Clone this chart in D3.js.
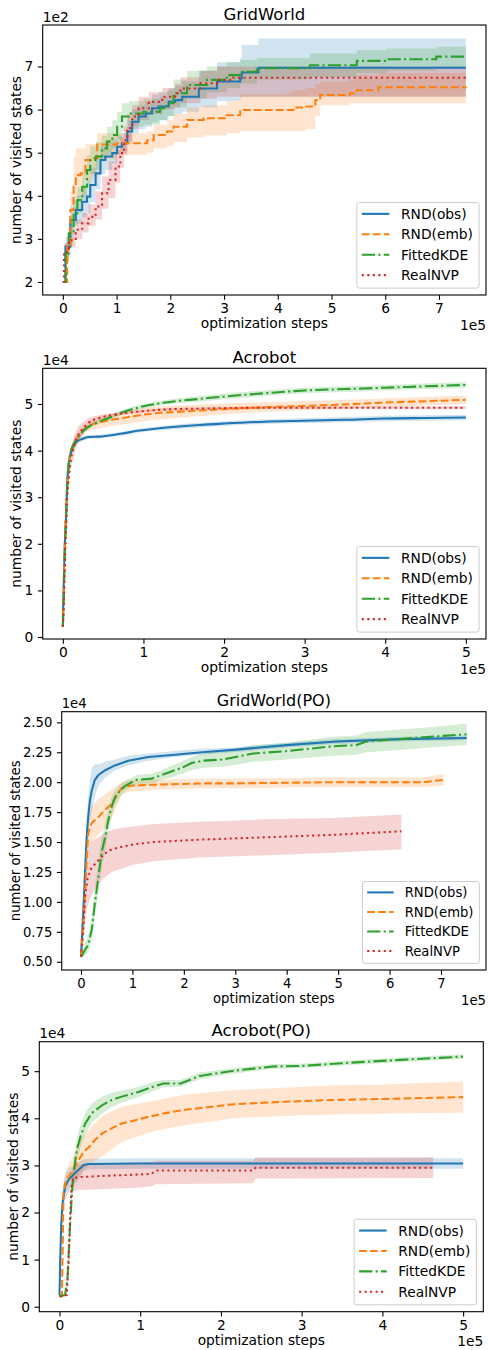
<!DOCTYPE html>
<html>
<head>
<meta charset="utf-8">
<script src="https://cdn.jsdelivr.net/npm/d3@7"></script>
<style>
  body { margin: 0; background: #fff; }
  svg { display: block; font-family: 'DejaVu Sans', sans-serif; }
</style>
</head>
<body>
<svg width="488" height="1350"></svg>
<script>
const seriesNames = ['RND(obs)', 'RND(emb)', 'FittedKDE', 'RealNVP']
const colors = ['#1f77b4', '#ff7f0e', '#2ca02c', '#d62728']
const dashes = [null, '7.7,3.3', '13.2,3.3,2.1,3.3', '2.1,3.4']

// GridWorld (x in 1e5 steps, y in 1e2 states)
const gwObsSteps = [0, 0.05, 0.14, 0.24, 0.36, 0.45, 0.51, 0.61, 0.70, 0.79, 0.92, 1.01, 1.10, 1.20, 1.29, 1.41, 1.54, 1.66, 1.78, 1.97, 2.09, 2.22, 2.53, 2.87, 3.30, 3.33, 3.61, 3.64, 7.5]
const gwObsMean = [2.0, 2.82, 3.44, 3.67, 3.86, 3.98, 4.25, 4.52, 4.83, 4.91, 4.99, 5.14, 5.22, 5.49, 5.72, 5.84, 5.91, 6.03, 6.07, 6.18, 6.22, 6.30, 6.49, 6.65, 6.73, 6.86, 6.86, 6.97, 6.97]
const gwObsLow = [2.0, 2.6, 3.15, 3.35, 3.5, 3.6, 3.85, 4.15, 4.5, 4.6, 4.75, 4.95, 5.0, 5.25, 5.45, 5.55, 5.6, 5.7, 5.75, 5.85, 5.9, 5.95, 6.05, 6.2, 6.25, 6.3, 6.3, 6.3, 6.3]
const gwObsHigh = [2.0, 3.05, 3.75, 4.0, 4.2, 4.35, 4.65, 4.9, 5.15, 5.25, 5.3, 5.4, 5.45, 5.75, 6.0, 6.1, 6.2, 6.35, 6.4, 6.5, 6.55, 6.65, 6.9, 7.1, 7.2, 7.5, 7.5, 7.65, 7.65]

const gwEmbSteps = [0, 0.08, 0.14, 0.20, 0.24, 0.33, 0.42, 0.55, 0.64, 1.01, 1.57, 1.69, 1.94, 2.06, 2.31, 2.62, 3.05, 3.30, 4.17, 4.29, 4.51, 4.70, 4.79, 5.34, 5.47, 5.87, 7.5]
const gwEmbMean = [2.0, 2.82, 3.67, 4.21, 4.48, 4.52, 4.83, 4.87, 5.19, 5.22, 5.29, 5.41, 5.49, 5.60, 5.76, 5.80, 5.87, 5.99, 5.99, 6.05, 6.07, 6.22, 6.34, 6.38, 6.45, 6.52, 6.53]
const gwEmbLow = [2.0, 2.55, 3.2, 3.7, 3.95, 4.0, 4.35, 4.45, 4.85, 4.95, 5.0, 5.1, 5.15, 5.25, 5.35, 5.4, 5.45, 5.5, 5.5, 5.5, 5.55, 5.85, 6.1, 6.15, 6.15, 6.15, 6.15]
const gwEmbHigh = [2.0, 3.1, 4.1, 4.9, 5.1, 5.1, 5.2, 5.2, 5.45, 5.45, 5.5, 5.65, 5.75, 5.9, 6.05, 6.1, 6.2, 6.35, 6.4, 6.45, 6.5, 6.6, 6.65, 6.7, 6.8, 6.85, 6.9]

const gwKdeSteps = [0, 0.05, 0.11, 0.20, 0.27, 0.36, 0.45, 0.51, 0.61, 0.73, 0.82, 0.92, 1.01, 1.10, 1.23, 1.50, 1.81, 1.94, 2.06, 2.31, 2.68, 3.05, 3.30, 3.61, 4.60, 5.47, 6.02, 6.95, 7.5]
const gwKdeMean = [2.0, 2.67, 3.13, 3.59, 3.90, 4.21, 4.60, 4.83, 4.91, 5.10, 5.26, 5.41, 5.60, 5.84, 5.91, 5.95, 6.03, 6.15, 6.38, 6.57, 6.69, 6.80, 6.88, 6.96, 7.03, 7.13, 7.17, 7.23, 7.23]
const gwKdeLow = [2.0, 2.45, 2.85, 3.3, 3.6, 3.9, 4.25, 4.5, 4.6, 4.8, 4.95, 5.1, 5.3, 5.5, 5.6, 5.65, 5.75, 5.85, 6.05, 6.25, 6.4, 6.5, 6.6, 6.7, 6.75, 6.85, 6.9, 6.98, 6.98]
const gwKdeHigh = [2.0, 2.9, 3.4, 3.9, 4.2, 4.55, 4.95, 5.15, 5.25, 5.4, 5.6, 5.75, 5.95, 6.15, 6.2, 6.25, 6.3, 6.45, 6.7, 6.9, 7.0, 7.1, 7.15, 7.2, 7.3, 7.38, 7.42, 7.46, 7.46]

const gwNvpSteps = [0, 0.02, 0.11, 0.24, 0.36, 0.48, 0.61, 0.73, 0.85, 0.98, 1.07, 1.14, 1.20, 1.29, 1.41, 1.60, 1.85, 2.09, 2.19, 2.56, 2.87, 3.17, 7.5]
const gwNvpMean = [2.0, 2.70, 2.97, 3.21, 3.36, 3.51, 3.75, 4.06, 4.37, 4.68, 4.99, 5.29, 5.57, 5.84, 6.03, 6.18, 6.30, 6.38, 6.49, 6.61, 6.69, 6.74, 6.74]
const gwNvpLow = [2.0, 2.5, 2.8, 3.0, 3.15, 3.3, 3.45, 3.7, 3.95, 4.3, 4.65, 4.95, 5.25, 5.55, 5.75, 5.9, 6.0, 6.05, 6.15, 6.25, 6.3, 6.3, 6.3]
const gwNvpHigh = [2.0, 2.9, 3.15, 3.45, 3.6, 3.8, 4.1, 4.45, 4.8, 5.05, 5.35, 5.6, 5.9, 6.1, 6.3, 6.4, 6.5, 6.6, 6.75, 6.9, 7.0, 7.0, 6.96]

// Acrobot (x in 1e5 steps, y in 1e4 states)
const acSteps = [0, 0.012, 0.025, 0.04, 0.055, 0.075, 0.1, 0.14, 0.18, 0.24, 0.32, 0.45, 0.6, 0.75, 0.95, 1.15, 1.4, 1.7, 2.0, 2.5, 3.0, 3.5, 4.0, 4.5, 5.0]
const acObsMean = [0.22, 1.25, 2.0, 2.6, 3.35, 3.75, 3.95, 4.12, 4.2, 4.25, 4.29, 4.30, 4.33, 4.37, 4.43, 4.47, 4.51, 4.55, 4.58, 4.62, 4.64, 4.66, 4.69, 4.70, 4.71]
const acObsLow = [0.22, 1.05, 1.8, 2.4, 3.15, 3.6, 3.85, 4.05, 4.15, 4.2, 4.25, 4.26, 4.29, 4.33, 4.39, 4.43, 4.46, 4.5, 4.53, 4.57, 4.59, 4.61, 4.63, 4.64, 4.65]
const acObsHigh = [0.22, 1.45, 2.2, 2.8, 3.55, 3.9, 4.05, 4.19, 4.25, 4.3, 4.33, 4.34, 4.37, 4.41, 4.47, 4.51, 4.56, 4.6, 4.63, 4.67, 4.7, 4.72, 4.75, 4.76, 4.77]
const acEmbMean = [0.22, 1.1, 2.08, 2.7, 3.2, 3.7, 3.98, 4.15, 4.28, 4.42, 4.53, 4.6, 4.66, 4.7, 4.76, 4.8, 4.83, 4.86, 4.89, 4.93, 4.96, 4.99, 5.03, 5.06, 5.09]
const acEmbLow = [0.22, 0.95, 1.9, 2.5, 3.0, 3.55, 3.85, 4.05, 4.18, 4.33, 4.43, 4.48, 4.53, 4.56, 4.62, 4.66, 4.7, 4.74, 4.78, 4.83, 4.87, 4.9, 4.94, 4.97, 5.0]
const acEmbHigh = [0.22, 1.25, 2.25, 2.9, 3.4, 3.85, 4.1, 4.25, 4.38, 4.5, 4.62, 4.72, 4.79, 4.84, 4.9, 4.94, 4.97, 4.99, 5.01, 5.04, 5.06, 5.09, 5.12, 5.15, 5.18]
const acKdeMean = [0.22, 0.86, 1.9, 2.6, 3.3, 3.75, 3.98, 4.15, 4.26, 4.4, 4.51, 4.62, 4.72, 4.83, 4.93, 5.0, 5.06, 5.11, 5.16, 5.23, 5.29, 5.32, 5.35, 5.38, 5.41]
const acKdeLow = [0.22, 0.7, 1.75, 2.45, 3.15, 3.65, 3.9, 4.08, 4.2, 4.34, 4.46, 4.57, 4.67, 4.78, 4.88, 4.95, 5.01, 5.05, 5.1, 5.17, 5.23, 5.26, 5.29, 5.32, 5.35]
const acKdeHigh = [0.22, 1.0, 2.05, 2.75, 3.45, 3.85, 4.06, 4.22, 4.32, 4.46, 4.56, 4.67, 4.77, 4.88, 4.98, 5.05, 5.11, 5.17, 5.22, 5.29, 5.35, 5.38, 5.41, 5.44, 5.47]
const acNvpMean = [0.22, 0.7, 1.6, 2.3, 3.0, 3.45, 3.8, 4.1, 4.3, 4.45, 4.6, 4.7, 4.76, 4.8, 4.84, 4.87, 4.89, 4.9, 4.91, 4.92, 4.92, 4.92, 4.92, 4.92, 4.92]
const acNvpLow = [0.22, 0.55, 1.4, 2.1, 2.8, 3.25, 3.6, 3.9, 4.12, 4.3, 4.5, 4.64, 4.72, 4.77, 4.81, 4.84, 4.86, 4.87, 4.88, 4.89, 4.89, 4.89, 4.89, 4.89, 4.89]
const acNvpHigh = [0.22, 0.85, 1.8, 2.5, 3.2, 3.65, 4.0, 4.3, 4.48, 4.6, 4.7, 4.76, 4.8, 4.83, 4.87, 4.9, 4.92, 4.93, 4.94, 4.95, 4.95, 4.95, 4.95, 4.95, 4.95]

// GridWorld(PO) (x in 1e5 steps, y in 1e4 states)
const gpObsSteps = [0, 0.045, 0.08, 0.11, 0.14, 0.175, 0.21, 0.27, 0.34, 0.47, 0.66, 0.92, 1.31, 1.83, 2.35, 2.96, 4.0, 4.97, 6.2, 7.5]
const gpObsMean = [0.54, 0.93, 1.27, 1.54, 1.71, 1.85, 1.93, 2.02, 2.06, 2.10, 2.14, 2.18, 2.21, 2.23, 2.25, 2.27, 2.31, 2.34, 2.36, 2.37]
const gpObsLow = [0.54, 0.85, 1.15, 1.4, 1.55, 1.68, 1.75, 1.88, 1.97, 2.04, 2.1, 2.14, 2.18, 2.21, 2.23, 2.25, 2.29, 2.32, 2.34, 2.35]
const gpObsHigh = [0.54, 1.0, 1.38, 1.68, 1.88, 2.02, 2.12, 2.15, 2.15, 2.17, 2.19, 2.22, 2.24, 2.26, 2.28, 2.29, 2.33, 2.36, 2.38, 2.39]

const gpEmbSteps = [0, 0.065, 0.11, 0.14, 0.21, 0.34, 0.47, 0.60, 0.69, 0.79, 0.92, 1.50, 2.41, 2.96, 4.9, 6.66, 7.05]
const gpEmbMean = [0.54, 0.93, 1.35, 1.57, 1.66, 1.71, 1.77, 1.82, 1.89, 1.95, 1.97, 1.98, 1.99, 1.99, 2.0, 2.0, 2.02]
const gpEmbLow = [0.54, 0.8, 1.2, 1.42, 1.5, 1.56, 1.63, 1.7, 1.8, 1.89, 1.92, 1.94, 1.95, 1.95, 1.96, 1.96, 1.97]
const gpEmbHigh = [0.54, 1.05, 1.5, 1.72, 1.8, 1.86, 1.9, 1.94, 1.97, 2.0, 2.02, 2.02, 2.03, 2.03, 2.04, 2.04, 2.07]

const gpKdeSteps = [0, 0.08, 0.14, 0.21, 0.27, 0.34, 0.40, 0.47, 0.53, 0.60, 0.66, 0.76, 0.86, 0.99, 1.08, 1.37, 1.57, 1.76, 1.96, 2.15, 2.38, 2.77, 3.35, 4.0, 4.9, 5.36, 5.55, 6.2, 6.79, 7.5]
const gpKdeMean = [0.54, 0.60, 0.64, 0.77, 0.99, 1.21, 1.41, 1.54, 1.68, 1.80, 1.87, 1.93, 1.97, 2.0, 2.02, 2.03, 2.06, 2.09, 2.12, 2.16, 2.18, 2.19, 2.24, 2.26, 2.30, 2.31, 2.34, 2.36, 2.38, 2.40]
const gpKdeLow = [0.54, 0.55, 0.58, 0.68, 0.87, 1.08, 1.28, 1.42, 1.58, 1.72, 1.81, 1.88, 1.93, 1.96, 1.98, 1.99, 2.02, 2.04, 2.07, 2.1, 2.12, 2.13, 2.17, 2.19, 2.22, 2.23, 2.25, 2.27, 2.29, 2.31]
const gpKdeHigh = [0.54, 0.66, 0.72, 0.88, 1.11, 1.34, 1.54, 1.66, 1.78, 1.88, 1.93, 1.98, 2.01, 2.04, 2.06, 2.07, 2.1, 2.14, 2.17, 2.21, 2.24, 2.26, 2.31, 2.33, 2.38, 2.39, 2.42, 2.44, 2.46, 2.49]

const gpNvpSteps = [0, 0.04, 0.08, 0.13, 0.2, 0.3, 0.45, 0.6, 0.8, 1.02, 1.41, 2.31, 3.61, 4.9, 6.23]
const gpNvpMean = [0.54, 0.75, 1.05, 1.2, 1.28, 1.33, 1.40, 1.44, 1.46, 1.48, 1.50, 1.52, 1.54, 1.56, 1.59]
const gpNvpLow = [0.54, 0.6, 0.85, 0.97, 1.05, 1.13, 1.2, 1.25, 1.28, 1.31, 1.34, 1.37, 1.39, 1.41, 1.44]
const gpNvpHigh = [0.54, 0.9, 1.25, 1.42, 1.5, 1.53, 1.57, 1.6, 1.62, 1.63, 1.65, 1.67, 1.69, 1.70, 1.73]

// Acrobot(PO) (x in 1e5 steps, y in 1e4 states)
const apObsSteps = [0, 0.009, 0.021, 0.037, 0.07, 0.11, 0.17, 0.235, 0.30, 0.36, 1.0, 2.0, 3.0, 4.0, 5.0]
const apObsMean = [0.25, 0.99, 1.70, 2.19, 2.55, 2.69, 2.80, 2.90, 3.01, 3.03, 3.04, 3.04, 3.04, 3.04, 3.04]
const apObsLow = [0.25, 0.8, 1.4, 1.85, 2.25, 2.42, 2.55, 2.7, 2.88, 2.92, 2.93, 2.93, 2.93, 2.93, 2.93]
const apObsHigh = [0.25, 1.2, 2.0, 2.5, 2.8, 2.93, 3.0, 3.08, 3.13, 3.14, 3.15, 3.15, 3.15, 3.15, 3.15]

const apEmbSteps = [0, 0.03, 0.05, 0.07, 0.11, 0.17, 0.235, 0.30, 0.36, 0.44, 0.53, 0.65, 0.77, 0.94, 1.10, 1.31, 1.56, 2.16, 2.78, 3.40, 4.02, 5.0]
const apEmbMean = [0.22, 0.22, 2.41, 2.62, 2.76, 2.90, 3.11, 3.29, 3.38, 3.54, 3.68, 3.79, 3.89, 3.96, 4.03, 4.11, 4.18, 4.30, 4.35, 4.39, 4.41, 4.45]
const apEmbLow = [0.22, 0.22, 2.2, 2.4, 2.5, 2.6, 2.75, 2.9, 3.0, 3.1, 3.2, 3.35, 3.5, 3.6, 3.7, 3.78, 3.85, 4.0, 4.05, 4.08, 4.1, 4.12]
const apEmbHigh = [0.22, 0.22, 2.6, 2.85, 3.0, 3.2, 3.45, 3.65, 3.75, 3.9, 4.05, 4.15, 4.25, 4.3, 4.35, 4.42, 4.5, 4.6, 4.65, 4.7, 4.72, 4.78]

const apKdeSteps = [0, 0.07, 0.10, 0.13, 0.16, 0.19, 0.215, 0.26, 0.32, 0.40, 0.53, 0.65, 0.77, 0.98, 1.19, 1.29, 1.50, 1.74, 2.16, 2.65, 2.98, 3.60, 4.22, 5.0]
const apKdeMean = [0.22, 0.25, 0.64, 1.70, 2.55, 3.04, 3.33, 3.61, 3.89, 4.11, 4.28, 4.39, 4.46, 4.56, 4.69, 4.74, 4.74, 4.90, 5.01, 5.10, 5.11, 5.18, 5.24, 5.31]
const apKdeLow = [0.22, 0.22, 0.5, 1.5, 2.35, 2.82, 3.1, 3.38, 3.66, 3.9, 4.1, 4.24, 4.33, 4.45, 4.6, 4.66, 4.67, 4.83, 4.95, 5.05, 5.06, 5.13, 5.19, 5.26]
const apKdeHigh = [0.22, 0.28, 0.8, 1.9, 2.75, 3.26, 3.56, 3.84, 4.12, 4.32, 4.46, 4.54, 4.59, 4.67, 4.78, 4.82, 4.81, 4.97, 5.07, 5.15, 5.16, 5.23, 5.29, 5.36]

const apNvpSteps = [0, 0.09, 0.11, 0.13, 0.15, 0.17, 0.235, 0.57, 0.90, 1.14, 1.19, 2.40, 2.43, 4.63]
const apNvpMean = [0.22, 0.25, 0.85, 1.84, 2.55, 2.73, 2.75, 2.78, 2.80, 2.82, 2.89, 2.89, 2.95, 2.95]
const apNvpLow = [0.22, 0.22, 0.65, 1.6, 2.3, 2.45, 2.48, 2.5, 2.52, 2.55, 2.6, 2.62, 2.72, 2.73]
const apNvpHigh = [0.22, 0.28, 1.05, 2.1, 2.8, 2.98, 3.02, 3.04, 3.06, 3.07, 3.1, 3.1, 3.17, 3.18]

const svg = d3.select('svg')

const drawPanel = (p) => {
  const fs = p.fontSize
  const x = d3.scaleLinear().domain(p.xDomain).range([p.left, p.right])
  const y = d3.scaleLinear().domain(p.yDomain).range([p.bottom, p.top])
  const g = svg.append('g')

  g.append('clipPath').attr('id', p.id + '-clip')
   .append('rect')
   .attr('x', p.left).attr('y', p.top)
   .attr('width', p.right - p.left).attr('height', p.bottom - p.top)

  const plot = g.append('g').attr('clip-path', `url(#${p.id}-clip)`)

  p.series.forEach((s, k) => {
    const area = d3.area()
                   .x(i => x(s.steps[i]))
                   .y0(i => y(s.low[i]))
                   .y1(i => y(s.high[i]))
                   .curve(p.curve)
    plot.append('path')
        .attr('d', area(d3.range(s.steps.length)))
        .attr('fill', colors[k])
        .attr('fill-opacity', 0.2)
  })

  p.series.forEach((s, k) => {
    const line = d3.line()
                   .x(i => x(s.steps[i]))
                   .y(i => y(s.mean[i]))
                   .curve(p.curve)
    plot.append('path')
        .attr('d', line(d3.range(s.steps.length)))
        .attr('fill', 'none')
        .attr('stroke', colors[k])
        .attr('stroke-width', 2.07)
        .attr('stroke-dasharray', dashes[k])
  })

  const xAxis = d3.axisBottom(x)
                  .tickValues(p.xTicks)
                  .tickFormat(d3.format('d'))
                  .tickSize(4.8)
                  .tickPadding(3.8)
  const yAxis = d3.axisLeft(y)
                  .tickValues(p.yTicks)
                  .tickFormat(p.yFormat)
                  .tickSize(4.8)
                  .tickPadding(4.6)

  const gx = g.append('g').attr('transform', `translate(0, ${p.bottom})`).call(xAxis)
  const gy = g.append('g').attr('transform', `translate(${p.left}, 0)`).call(yAxis)
  ;[gx, gy].forEach(a => {
    a.select('.domain').remove()
    a.attr('font-size', fs).attr('font-family', 'DejaVu Sans')
    a.selectAll('line').attr('stroke', '#000').attr('stroke-width', 1.1)
    a.selectAll('text').attr('fill', '#000')
  })

  g.append('rect')
   .attr('x', p.left).attr('y', p.top)
   .attr('width', p.right - p.left).attr('height', p.bottom - p.top)
   .attr('fill', 'none')
   .attr('stroke', '#000')
   .attr('stroke-width', 1.1)

  g.append('text')
   .text(p.title)
   .attr('x', (p.left + p.right) / 2)
   .attr('y', p.top - 5.5)
   .attr('text-anchor', 'middle')
   .style('font-size', p.titleSize + 'px')

  g.append('text')
   .text(p.yOffset)
   .attr('x', p.left)
   .attr('y', p.top - 3.5)
   .style('font-size', fs + 'px')

  g.append('text')
   .text('optimization steps')
   .attr('x', (p.left + p.right) / 2)
   .attr('y', p.bottom + 33)
   .attr('text-anchor', 'middle')
   .style('font-size', fs + 'px')

  g.append('text')
   .text('1e5')
   .attr('x', p.right)
   .attr('y', p.bottom + 34.5)
   .attr('text-anchor', 'end')
   .style('font-size', fs + 'px')

  g.append('text')
   .text('number of visited states')
   .attr('transform', `translate(${p.yLabelX}, ${(p.top + p.bottom) / 2})rotate(-90)`)
   .attr('text-anchor', 'middle')
   .style('font-size', fs + 'px')

  // legend, lower right
  const lw = 8.86 * fs
  const lh = 6.2 * fs
  const lx = p.right - 0.5 * fs - lw
  const ly = p.bottom - 0.5 * fs - lh
  const legend = g.append('g')
  legend.append('rect')
        .attr('x', lx).attr('y', ly)
        .attr('width', lw).attr('height', lh)
        .attr('rx', 2.5)
        .attr('fill', '#fff').attr('fill-opacity', 0.8)
        .attr('stroke', '#cccccc').attr('stroke-width', 1)
  seriesNames.forEach((name, k) => {
    const cy = ly + 0.82 * fs + k * 1.48 * fs
    legend.append('line')
          .attr('x1', lx + 0.36 * fs).attr('x2', lx + 2.36 * fs)
          .attr('y1', cy).attr('y2', cy)
          .attr('stroke', colors[k])
          .attr('stroke-width', 2.07)
          .attr('stroke-dasharray', dashes[k])
    legend.append('text')
          .text(name)
          .attr('x', lx + 3.2 * fs)
          .attr('y', cy)
          .attr('dy', '0.36em')
          .style('font-size', fs + 'px')
  })
}

drawPanel({
  id: 'gw', title: 'GridWorld', yOffset: '1e2',
  left: 42.7, right: 486, top: 25, bottom: 295, yLabelX: 20.5,
  fontSize: 13.8, titleSize: 16.5,
  xDomain: [-0.375, 7.875], yDomain: [1.698, 7.963],
  xTicks: [0, 1, 2, 3, 4, 5, 6, 7], yTicks: [2, 3, 4, 5, 6, 7], yFormat: d3.format('d'),
  curve: d3.curveStepAfter,
  series: [
    { steps: gwObsSteps, mean: gwObsMean, low: gwObsLow, high: gwObsHigh },
    { steps: gwEmbSteps, mean: gwEmbMean, low: gwEmbLow, high: gwEmbHigh },
    { steps: gwKdeSteps, mean: gwKdeMean, low: gwKdeLow, high: gwKdeHigh },
    { steps: gwNvpSteps, mean: gwNvpMean, low: gwNvpLow, high: gwNvpHigh }
  ]
})

drawPanel({
  id: 'ac', title: 'Acrobot', yOffset: '1e4',
  left: 42.7, right: 486, top: 368.3, bottom: 639, yLabelX: 20.7,
  fontSize: 13.8, titleSize: 16.5,
  xDomain: [-0.25, 5.25], yDomain: [-0.043, 5.766],
  xTicks: [0, 1, 2, 3, 4, 5], yTicks: [0, 1, 2, 3, 4, 5], yFormat: d3.format('d'),
  curve: d3.curveMonotoneX,
  series: [
    { steps: acSteps, mean: acObsMean, low: acObsLow, high: acObsHigh },
    { steps: acSteps, mean: acEmbMean, low: acEmbLow, high: acEmbHigh },
    { steps: acSteps, mean: acKdeMean, low: acKdeLow, high: acKdeHigh },
    { steps: acSteps, mean: acNvpMean, low: acNvpLow, high: acNvpHigh }
  ]
})

drawPanel({
  id: 'gp', title: 'GridWorld(PO)', yOffset: '1e4',
  left: 61.7, right: 486, top: 711.7, bottom: 970, yLabelX: 20,
  fontSize: 13.2, titleSize: 16,
  xDomain: [-0.375, 7.875], yDomain: [0.431, 2.589],
  xTicks: [0, 1, 2, 3, 4, 5, 6, 7], yTicks: [0.5, 0.75, 1.0, 1.25, 1.5, 1.75, 2.0, 2.25, 2.5], yFormat: d3.format('.2f'),
  curve: d3.curveLinear,
  series: [
    { steps: gpObsSteps, mean: gpObsMean, low: gpObsLow, high: gpObsHigh },
    { steps: gpEmbSteps, mean: gpEmbMean, low: gpEmbLow, high: gpEmbHigh },
    { steps: gpKdeSteps, mean: gpKdeMean, low: gpKdeLow, high: gpKdeHigh },
    { steps: gpNvpSteps, mean: gpNvpMean, low: gpNvpLow, high: gpNvpHigh }
  ]
})

drawPanel({
  id: 'ap', title: 'Acrobot(PO)', yOffset: '1e4',
  left: 39.3, right: 483.3, top: 1041.7, bottom: 1311.7, yLabelX: 18,
  fontSize: 13.8, titleSize: 16.5,
  xDomain: [-0.25, 5.25], yDomain: [-0.106, 5.626],
  xTicks: [0, 1, 2, 3, 4, 5], yTicks: [0, 1, 2, 3, 4, 5], yFormat: d3.format('d'),
  curve: d3.curveLinear,
  series: [
    { steps: apObsSteps, mean: apObsMean, low: apObsLow, high: apObsHigh },
    { steps: apEmbSteps, mean: apEmbMean, low: apEmbLow, high: apEmbHigh },
    { steps: apKdeSteps, mean: apKdeMean, low: apKdeLow, high: apKdeHigh },
    { steps: apNvpSteps, mean: apNvpMean, low: apNvpLow, high: apNvpHigh }
  ]
})
</script>
</body>
</html>
